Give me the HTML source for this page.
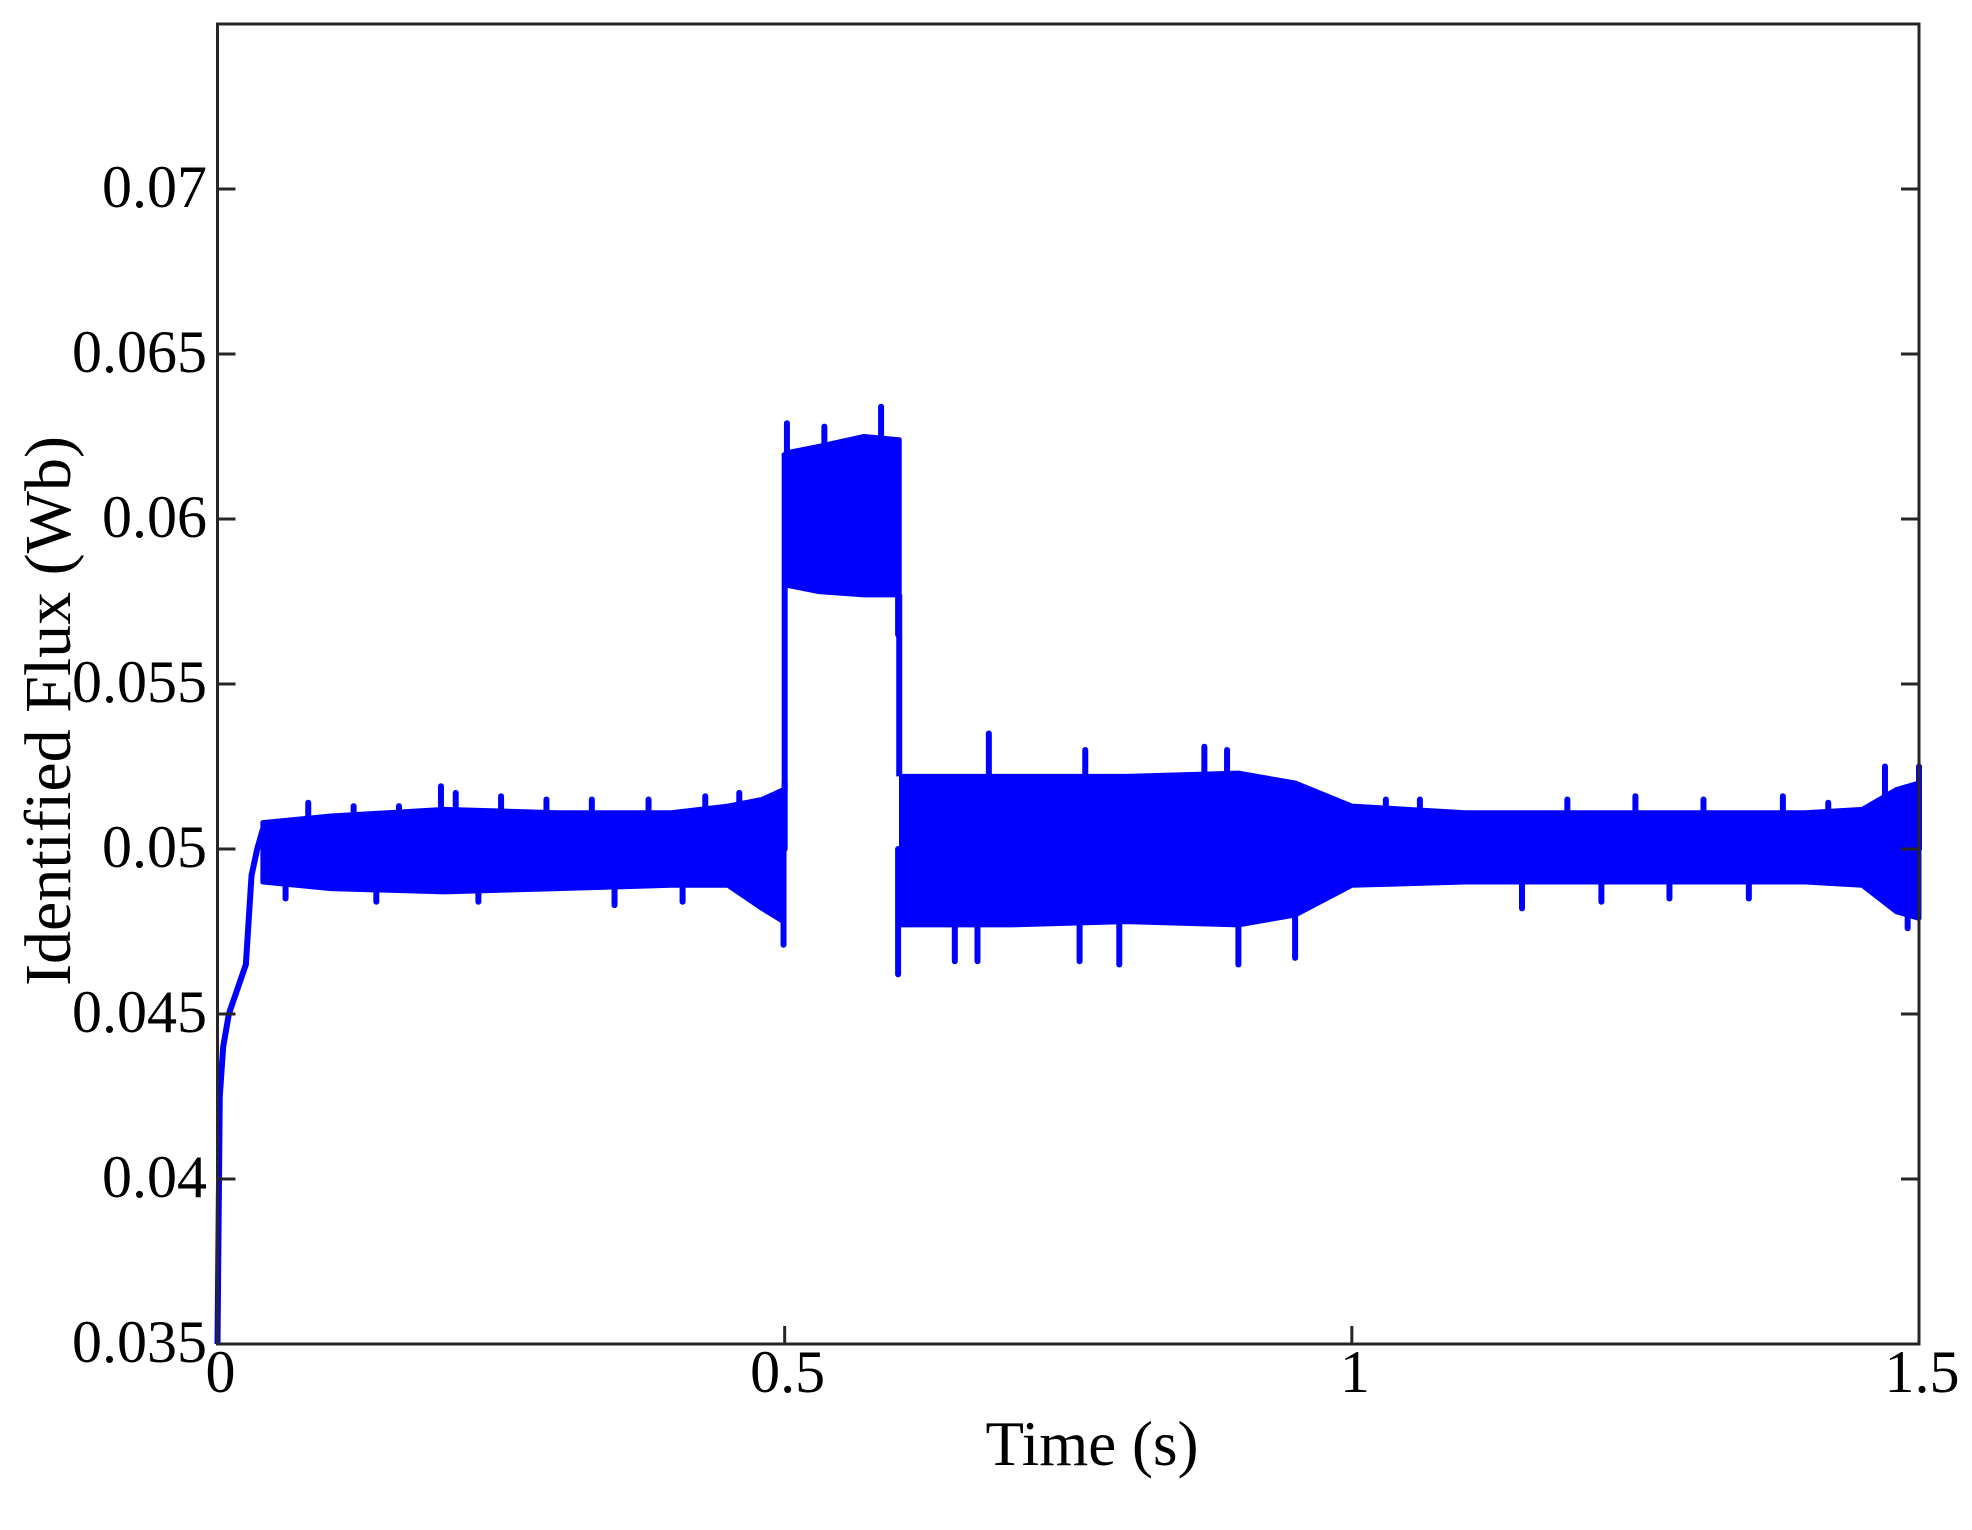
<!DOCTYPE html>
<html><head><meta charset="utf-8"><style>
html,body{margin:0;padding:0;background:#fff}
svg{display:block}
text{font-family:"Liberation Serif",serif;fill:#000}
</style></head><body>
<svg id="chart" width="1972" height="1530" viewBox="0 0 1972 1530" xmlns="http://www.w3.org/2000/svg">
<g id="plot"></g>
<g id="axes"></g>
<text x="1092" y="1465" font-size="63" text-anchor="middle">Time (s)</text>
<text x="0" y="0" font-size="66" text-anchor="middle" transform="translate(70,711) rotate(-90)">Identified Flux (Wb)</text>
</svg>
<script>
const xTicks=[0,0.5,1,1.5];
const xTickLabels=["0","0.5","1","1.5"];
const yTicks=[0.035,0.04,0.045,0.05,0.055,0.06,0.065,0.07];
const yTickLabels=["0.035","0.04","0.045","0.05","0.055","0.06","0.065","0.07"];
const riseT=[0,0.002,0.005,0.01,0.02,0.025,0.03,0.035,0.04];
const riseV=[0.035,0.0425,0.0440,0.0450,0.0460,0.0465,0.0492,0.0500,0.0506];
const bandT=[0.04,0.1,0.2,0.3,0.4,0.45,0.48,0.499];
const bandUpper=[0.0508,0.0510,0.0512,0.0511,0.0511,0.0513,0.0515,0.0518];
const bandLower=[0.0490,0.0488,0.0487,0.0488,0.0489,0.0489,0.0482,0.0478];
const pulseT=[0.501,0.53,0.57,0.601];
const pulseUpper=[0.0620,0.0622,0.0625,0.0624];
const pulseLower=[0.0580,0.0578,0.0577,0.0577];
const tailT=[0.603,0.7,0.8,0.9,0.95,1.0,1.1,1.2,1.3,1.4,1.45,1.48,1.5];
const tailUpper=[0.0522,0.0522,0.0522,0.0523,0.0520,0.0513,0.0511,0.0511,0.0511,0.0511,0.0512,0.0518,0.0520];
const tailLower=[0.0477,0.0477,0.0478,0.0477,0.0480,0.0489,0.0490,0.0490,0.0490,0.0490,0.0489,0.0481,0.0479];
const spikeT=[0.197,0.21,0.502,0.535,0.585,0.68,0.765,0.87,0.89,1.47,1.5,0.499,0.6,0.65,0.67,0.76,0.795,0.9,0.95,1.49,0.5,0.6,0.08,0.12,0.16,0.25,0.29,0.33,0.38,0.43,0.46,0.06,0.14,0.23,0.35,0.41,1.03,1.06,1.19,1.25,1.31,1.38,1.42,1.15,1.22,1.28,1.35];
const spikeV=[0.0519,0.0517,0.0629,0.0628,0.0634,0.0535,0.0530,0.0531,0.0530,0.0525,0.0525,0.0471,0.0462,0.0466,0.0466,0.0466,0.0465,0.0465,0.0467,0.0476,0.0520,0.0565,0.0514,0.0513,0.0513,0.0516,0.0515,0.0515,0.0515,0.0516,0.0517,0.0485,0.0484,0.0484,0.0483,0.0484,0.0515,0.0515,0.0515,0.0516,0.0515,0.0516,0.0514,0.0482,0.0484,0.0485,0.0485];
const spikeBase=[0.05,0.05,0.06,0.06,0.06,0.05,0.05,0.05,0.05,0.05,0.05,0.05,0.05,0.05,0.05,0.05,0.05,0.05,0.05,0.05,0.05,0.06,0.05,0.05,0.05,0.05,0.05,0.05,0.05,0.05,0.05,0.05,0.05,0.05,0.05,0.05,0.05,0.05,0.05,0.05,0.05,0.05,0.05,0.05,0.05,0.05,0.05];

const L=217.5,R=1919,T=24,B=1344;
const X=t=>L+t/1.5*(R-L);
const Y=v=>B-(v-0.035)/0.04*(B-T);
const NS='http://www.w3.org/2000/svg';
const plot=document.getElementById('plot'),axes=document.getElementById('axes');
function mk(tag,attrs,parent){const e=document.createElementNS(NS,tag);for(const k in attrs)e.setAttribute(k,attrs[k]);parent.appendChild(e);return e;}
const blue='#0000ff';
function band(ts,up,lo,name){
  let pts=ts.map((t,i)=>X(t)+','+Y(up[i]));
  for(let i=ts.length-1;i>=0;i--)pts.push(X(ts[i])+','+Y(lo[i]));
  const p=mk('polygon',{points:pts.join(' '),fill:blue,stroke:blue,'stroke-width':5,'stroke-linejoin':'round'},plot);
  
  
}
const rise=mk('polyline',{points:riseT.map((t,i)=>X(t)+','+Y(riseV[i])).join(' '),fill:'none',stroke:blue,'stroke-width':6},plot);


band(bandT,bandUpper,bandLower,'flux-band-initial');
band(pulseT,pulseUpper,pulseLower,'flux-band-pulse');
band(tailT,tailUpper,tailLower,'flux-band-tail');
const e1=mk('line',{x1:X(0.5),x2:X(0.5),y1:Y(bandUpper[bandUpper.length-1]),y2:Y(pulseUpper[0]),stroke:blue,'stroke-width':6},plot);


const e2=mk('line',{x1:X(0.601),x2:X(0.601),y1:Y(pulseLower[pulseLower.length-1]),y2:Y(tailUpper[0]),stroke:blue,'stroke-width':6},plot);


spikeT.forEach((t,i)=>{
  const s=mk('line',{x1:X(t),x2:X(t),y1:Y(spikeBase[i]),y2:Y(spikeV[i]),stroke:blue,'stroke-width':6,'stroke-linecap':'round'},plot);
  
  
});
const box=mk('rect',{x:L,y:T,width:R-L,height:B-T,fill:'none',stroke:'#262626','stroke-width':3},axes);


xTicks.forEach((t,i)=>{
  const a=mk('line',{x1:X(t),x2:X(t),y1:B,y2:B-18,stroke:'#262626','stroke-width':3},axes);
  
  
  const tx=mk('text',{x:X(t)+3,y:1392,'font-size':60,'text-anchor':'middle'},axes);
  tx.textContent=xTickLabels[i];
  
  
});
yTicks.forEach((v,i)=>{
  const a=mk('line',{x1:L,x2:L+18,y1:Y(v),y2:Y(v),stroke:'#262626','stroke-width':3},axes);
  
  
  const b=mk('line',{x1:R,x2:R-18,y1:Y(v),y2:Y(v),stroke:'#262626','stroke-width':3},axes);
  
  
  const tx=mk('text',{x:207,y:Y(v)+18,'font-size':60,'text-anchor':'end'},axes);
  tx.textContent=yTickLabels[i];
  
  
});
</script>
</body></html>
